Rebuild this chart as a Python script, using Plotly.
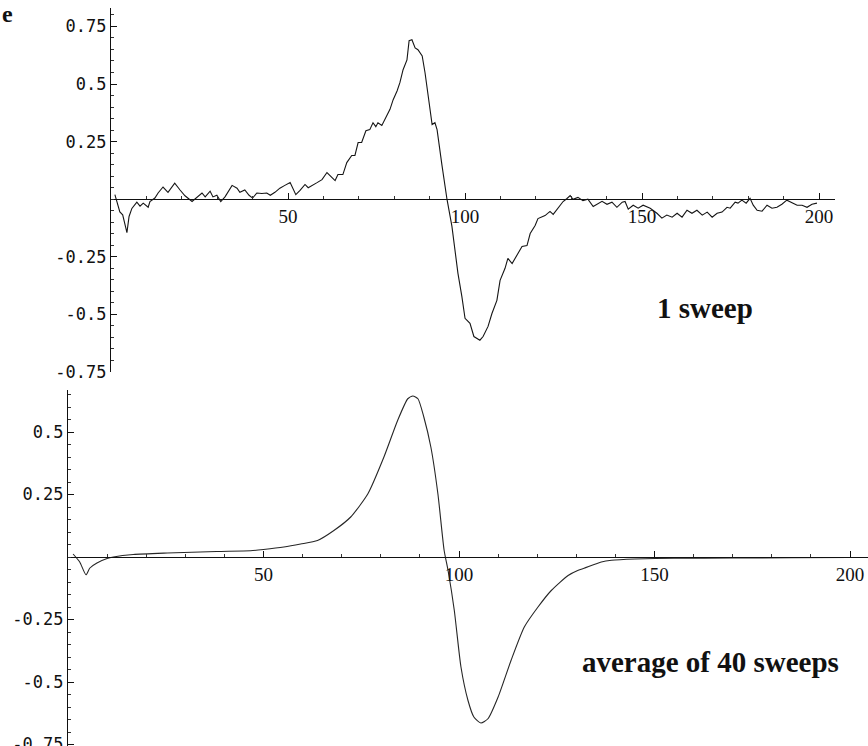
import plotly.graph_objects as go

# ---- data: single sweep (top panel) ----
sweep_x = [1.1, 2.5, 3.3, 4.5, 5.1, 5.9, 7.3, 8.2, 9.1, 10.5, 11, 12.4, 13.3, 14.7, 16.1, 18, 19.5, 20.9,
           22.9, 24.3, 25.7, 26.6, 28, 28.8, 29.9, 31, 32.2, 34.2, 35.6, 36.4, 37.8, 39, 40, 41.2, 42.6,
           44, 45, 46.3, 47.7, 49.1, 50.6, 52.2, 53.4, 54.8, 55.7, 58.2, 59.6, 61, 62.1, 63.3, 64.1, 65.5,
           66.6, 68, 68.9, 69.8, 70.8, 72, 73.1, 74, 74.8, 75.4, 76.5, 77.9, 78.8, 79.7, 80.8, 81.6, 82.5,
           83.6, 84.2, 85, 85.9, 86.7, 87.9, 88.7, 89.5, 90.7, 91.5, 92.1, 93.5, 94.9, 96.3, 97.2, 98,
           99.1, 100, 101.4, 102.5, 104.2, 105.1, 106.5, 107.6, 109, 109.9, 111.3, 112.1, 113.3, 114.7,
           116.1, 117.5, 118.4, 119.8, 120.6, 122.6, 124, 124.9, 126.3, 127.7, 128.8, 129.7, 130.5, 131.9,
           133.3, 134.7, 136.2, 137.6, 138.7, 140.1, 141.5, 142.9, 144.4, 145.2, 146.1, 147.5, 148.9,
           150.3, 152.3, 154.2, 155.6, 157, 158.5, 159.9, 161.3, 162.7, 164.1, 165.5, 167, 168.4, 169.8,
           171.2, 172.6, 174, 174.9, 176.3, 177.1, 178.2, 179.4, 180.5, 181.4, 182.5, 183.9, 185.3, 186.7,
           188.1, 189.5, 190.9, 192.4, 193.8, 195.2, 196.6, 198, 199.4]
sweep_y = [0.02, -0.055, -0.068, -0.145, -0.075, -0.04, -0.013, -0.03, -0.017, -0.035, -0.01, 0.005, 0.027,
           0.053, 0.03, 0.07, 0.04, 0.015, -0.01, 0.01, 0.027, 0.01, 0.035, 0.01, 0.017, -0.01, 0.01, 0.06,
           0.048, 0.03, 0.04, 0.017, 0.005, 0.027, 0.025, 0.027, 0.017, 0.03, 0.048, 0.06, 0.073, 0.02,
           0.038, 0.064, 0.05, 0.072, 0.085, 0.116, 0.098, 0.081, 0.107, 0.107, 0.159, 0.19, 0.19, 0.246,
           0.246, 0.297, 0.302, 0.332, 0.315, 0.332, 0.32, 0.367, 0.39, 0.432, 0.47, 0.506, 0.562, 0.605,
           0.688, 0.692, 0.657, 0.649, 0.622, 0.549, 0.449, 0.324, 0.332, 0.302, 0.146, 0.0, -0.118, -0.222,
           -0.322, -0.422, -0.517, -0.539, -0.596, -0.612, -0.596, -0.552, -0.496, -0.439, -0.352, -0.3,
           -0.257, -0.279, -0.244, -0.205, -0.201, -0.149, -0.114, -0.084, -0.071, -0.053, -0.066, -0.04,
           -0.01, 0.003, 0.016, 0.0, 0.008, -0.006, 0.0, -0.032, -0.017, -0.009, -0.022, -0.013, -0.035,
           -0.013, -0.01, -0.043, -0.026, -0.039, -0.026, -0.039, -0.061, -0.082, -0.069, -0.078, -0.061,
           -0.078, -0.048, -0.061, -0.048, -0.069, -0.056, -0.078, -0.061, -0.056, -0.035, -0.039, -0.013,
           -0.017, -0.004, -0.017, 0.004, -0.026, -0.048, -0.052, -0.026, -0.039, -0.035, -0.022, -0.004,
           -0.017, -0.026, -0.026, -0.035, -0.022, -0.017]

# ---- data: average of 40 sweeps (bottom panel) ----
avg_x = [1.3, 3.0, 4.6, 5.6, 7.4, 10, 11.6, 16.7, 25.4, 38, 46.7, 50, 55.2, 59.5, 63.8, 68, 72.3, 76.7,
         80.8, 84.3, 86.9, 88.2, 89.5, 91, 92.8, 94.6, 96.2, 97.2, 98.8, 100.5, 102.3, 103.8, 105.6,
         107.4, 110, 113.3, 116.7, 120.2, 123.6, 127.9, 130.5, 132, 136.4, 139, 145, 155, 170, 185, 200]
avg_y = [0.012, -0.02, -0.071, -0.044, -0.024, -0.006, 0.0, 0.01, 0.016, 0.022, 0.025, 0.03, 0.04,
         0.052, 0.066, 0.106, 0.16, 0.253, 0.4, 0.546, 0.633, 0.644, 0.633, 0.56, 0.44, 0.253, 0.026,
         -0.054, -0.214, -0.44, -0.574, -0.64, -0.664, -0.647, -0.56, -0.414, -0.28, -0.2, -0.134,
         -0.074, -0.053, -0.045, -0.02, -0.013, -0.008, -0.005, -0.004, -0.003, -0.002]

y_tickvals = [-0.75, -0.5, -0.25, 0.25, 0.5, 0.75]
y_ticktext = ["-0.75", "-0.5", "-0.25", "0.25", "0.5", "0.75"]
x_tickvals = [50, 100, 150, 200]
x_ticktext = ["50", "100", "150", "200"]

labels = ["1 sweep", "average of 40 sweeps"]
panel_letter = "e"

W, H = 868, 746


def px_x(p):
    return p / W


def px_y(p):
    return 1 - p / H


fig = go.Figure()
fig.add_trace(go.Scatter(x=sweep_x, y=sweep_y, mode="lines", xaxis="x", yaxis="y",
                         line=dict(color="#151515", width=1.1), showlegend=False))
fig.add_trace(go.Scatter(x=avg_x, y=avg_y, mode="lines", xaxis="x2", yaxis="y2",
                         line=dict(color="#262626", width=1.1, shape="spline", smoothing=0.6),
                         showlegend=False))

yfont = dict(family="DejaVu Sans Mono", size=17, color="#111")
xfont = dict(family="Liberation Serif", size=19, color="#111")

common_x = dict(showgrid=False, zeroline=False, showline=True, linecolor="#111", linewidth=1.2,
                ticks="inside", ticklen=6, tickcolor="#111", tickwidth=1, automargin=False,
                tickmode="array", tickvals=x_tickvals, ticktext=x_ticktext, tickfont=xfont,
                ticklabeloverflow="allow",
                minor=dict(ticks="inside", ticklen=3, tickcolor="#333", dtick=10, tick0=0, showgrid=False),
                anchor="free", side="bottom")
common_y = dict(showgrid=False, zeroline=False, showline=True, linecolor="#111", linewidth=1.2,
                ticks="inside", ticklen=6, tickcolor="#111", tickwidth=1, automargin=False,
                tickmode="array", tickvals=y_tickvals, ticktext=y_ticktext, tickfont=yfont,
                ticklabeloverflow="allow",
                minor=dict(ticks="inside", ticklen=3, tickcolor="#333", dtick=0.05, tick0=0, showgrid=False),
                side="left")

fig.update_layout(
    width=W, height=H, autosize=False,
    margin=dict(l=0, r=0, t=0, b=0, autoexpand=False),
    paper_bgcolor="white", plot_bgcolor="white",
    xaxis=dict(common_x, domain=[px_x(111), px_x(835)], range=[0, 204.5], position=px_y(199)),
    yaxis=dict(common_y, domain=[px_y(372), px_y(8)], range=[-0.75, 0.83], anchor="x"),
    xaxis2=dict(common_x, domain=[px_x(68), 1.0], range=[0, 204.6], position=px_y(557)),
    yaxis2=dict(common_y, domain=[0, px_y(390)], range=[-0.756, 0.668], anchor="x2"),
)

lab_font = dict(family="Liberation Serif", size=29, color="#111")
fig.add_annotation(text="<b>%s</b>" % labels[0], x=px_x(705), y=px_y(308), xref="paper", yref="paper",
                   xanchor="center", yanchor="middle", showarrow=False, font=lab_font)
fig.add_annotation(text="<b>%s</b>" % labels[1], x=px_x(710), y=px_y(662), xref="paper", yref="paper",
                   xanchor="center", yanchor="middle", showarrow=False, font=lab_font)
fig.add_annotation(text="<b>%s</b>" % panel_letter, x=0.0, y=px_y(14), xref="paper", yref="paper",
                   xanchor="left", yanchor="middle", showarrow=False,
                   font=dict(family="Liberation Serif", size=24, color="#111"))

post = ("var d=document.documentElement,b=document.body;"
        "d.style.margin='0';d.style.padding='0';d.style.overflow='hidden';"
        "b.style.margin='0';b.style.padding='0';b.style.overflow='hidden';")
fig.write_html("out.html", config={"displayModeBar": False}, post_script=post)
